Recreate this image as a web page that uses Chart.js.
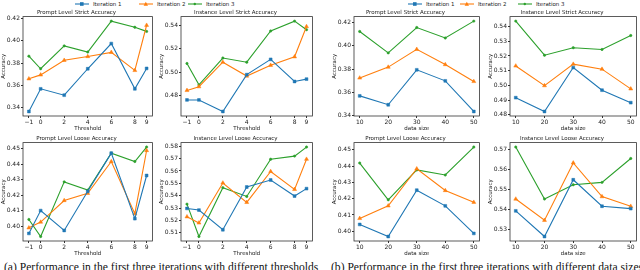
<!DOCTYPE html>
<html>
<head>
<meta charset="utf-8">
<script src="https://cdn.jsdelivr.net/npm/chart.js@4.4.0/dist/chart.umd.min.js"></script>
<style>
  html, body { margin: 0; padding: 0; background: #fff; }
  body { width: 640px; height: 270px; position: relative; overflow: hidden; font-family: 'DejaVu Sans', sans-serif; }
  canvas { position: absolute; }
  .legend { position: absolute; top: 0; height: 9px; font-size: 5.5px; color: #222; }
  .legend span.item { position: absolute; top: 1px; white-space: nowrap; line-height: 7px; }
  .legend svg { vertical-align: middle; margin-right: 4px; }
  .caption { position: absolute; top: 261px; font: 11.6px 'Liberation Serif', serif; line-height: 13px; color: #111; white-space: nowrap; }
</style>
</head>
<body>
<div class="legend" id="legendA"></div>
<div class="legend" id="legendB"></div>
<div class="caption" style="left:4px">(a) Performance in the first three iterations with different thresholds</div>
<div class="caption" style="left:331px">(b) Performance in the first three iterations with different data sizes</div>
<canvas id="c1"></canvas>
<canvas id="c2"></canvas>
<canvas id="c3"></canvas>
<canvas id="c4"></canvas>
<canvas id="c5"></canvas>
<canvas id="c6"></canvas>
<canvas id="c7"></canvas>
<canvas id="c8"></canvas>
<script>
Chart.defaults.font.family = "'DejaVu Sans', sans-serif";
Chart.defaults.color = '#222';
Chart.defaults.devicePixelRatio = 1;

let blue = '#1f77b4';
let orange = '#ff7f0e';
let green = '#2ca02c';

let seriesNames = ['Iteration 1', 'Iteration 2', 'Iteration 3'];

// x values
let thresholds = [-1, 0, 2, 4, 6, 8, 9];
let dataSizes = [10, 20, 30, 40, 50];

// threshold experiments
let promptStrictThr1 = [0.3367, 0.3570, 0.3513, 0.3750, 0.3976, 0.3570, 0.3753];
let promptStrictThr2 = [0.3660, 0.3695, 0.3826, 0.3860, 0.3897, 0.3735, 0.4140];
let promptStrictThr3 = [0.3863, 0.3750, 0.3955, 0.3900, 0.4177, 0.4122, 0.4085];

let instStrictThr1 = [0.4765, 0.4765, 0.4667, 0.4980, 0.5110, 0.4922, 0.4942];
let instStrictThr2 = [0.4846, 0.4878, 0.5086, 0.4968, 0.5060, 0.5132, 0.5389];
let instStrictThr3 = [0.5075, 0.4893, 0.5121, 0.5086, 0.5351, 0.5435, 0.5362];

let promptLooseThr1 = [0.3955, 0.4102, 0.3974, 0.4226, 0.4472, 0.4050, 0.4328];
let promptLooseThr2 = [0.3991, 0.4028, 0.4167, 0.4213, 0.4418, 0.4082, 0.4489];
let promptLooseThr3 = [0.4045, 0.3935, 0.4287, 0.4234, 0.4472, 0.4418, 0.4511];

let instLooseThr1 = [0.5297, 0.5284, 0.5125, 0.5470, 0.5527, 0.5397, 0.5457];
let instLooseThr2 = [0.5230, 0.5180, 0.5503, 0.5346, 0.5596, 0.5451, 0.5695];
let instLooseThr3 = [0.5332, 0.5070, 0.5465, 0.5394, 0.5695, 0.5720, 0.5793];

// data size experiments
let promptStrictSize1 = [0.3571, 0.3495, 0.3795, 0.3700, 0.3437];
let promptStrictSize2 = [0.3725, 0.3818, 0.3971, 0.3840, 0.3695];
let promptStrictSize3 = [0.4124, 0.3940, 0.4158, 0.4068, 0.4213];

let instStrictSize1 = [0.4916, 0.4822, 0.5121, 0.4967, 0.4882];
let instStrictSize2 = [0.5132, 0.4998, 0.5144, 0.5110, 0.4976];
let instStrictSize3 = [0.5437, 0.5205, 0.5256, 0.5244, 0.5339];

let promptLooseSize1 = [0.4042, 0.3968, 0.4252, 0.4156, 0.3987];
let promptLooseSize2 = [0.4079, 0.4156, 0.4383, 0.4250, 0.4178];
let promptLooseSize3 = [0.4418, 0.4193, 0.4376, 0.4345, 0.4516];

let instLooseSize1 = [0.5395, 0.5267, 0.5550, 0.5418, 0.5406];
let instLooseSize2 = [0.5454, 0.5348, 0.5634, 0.5466, 0.5418];
let instLooseSize3 = [0.5713, 0.5454, 0.5525, 0.5537, 0.5656];

// frame boxes of the eight panels
let cols = [[23, 153], [181, 313], [354, 480], [510, 637]];
let rows = [[17, 116], [143, 241]];

let markerStyles = [
  {color: blue, pointStyle: 'rect', radius: 2},
  {color: orange, pointStyle: 'triangle', radius: 2.3},
  {color: green, pointStyle: 'circle', radius: 1.2}
];

let frameBox = {
  id: 'frameBox',
  afterDraw(chart) {
    let a = chart.chartArea;
    let ctx = chart.ctx;
    ctx.save();
    ctx.strokeStyle = '#333';
    ctx.lineWidth = 0.8;
    ctx.strokeRect(a.left, a.top, a.right - a.left, a.bottom - a.top);
    ctx.restore();
  }
};

function drawPanel(id, col, row, title, xLabel, xValues, series, yStep) {
  let yAxisW = 23, xAxisH = 16, titleH = 10.6, padRight = 4;
  let [fl, fr] = cols[col];
  let [ft, fb] = rows[row];
  let canvas = document.getElementById(id);
  canvas.width = fr - fl + yAxisW + padRight;
  canvas.height = Math.round(fb - ft + titleH + xAxisH);
  canvas.style.left = (fl - yAxisW) + 'px';
  canvas.style.top = Math.round(ft - titleH) + 'px';

  let all = series.flat();
  let ymin = Math.min(...all), ymax = Math.max(...all);
  let ypad = (ymax - ymin) * 0.05;
  let xpad = (xValues[xValues.length - 1] - xValues[0]) * 0.05;

  new Chart(canvas, {
    type: 'line',
    data: {
      datasets: series.map((vals, i) => ({
        label: seriesNames[i],
        data: vals.map((v, j) => ({x: xValues[j], y: v})),
        borderColor: markerStyles[i].color,
        backgroundColor: markerStyles[i].color,
        pointStyle: markerStyles[i].pointStyle,
        pointRadius: markerStyles[i].radius,
        pointBorderWidth: 0.5,
        borderWidth: 1.1,
        tension: 0
      }))
    },
    options: {
      responsive: false,
      animation: false,
      layout: {padding: {top: 3, right: padRight, left: 0, bottom: 0}},
      scales: {
        x: {
          type: 'linear',
          min: xValues[0] - xpad,
          max: xValues[xValues.length - 1] + xpad,
          afterBuildTicks: axis => { axis.ticks = xValues.map(v => ({value: v})); },
          afterFit: axis => { axis.height = xAxisH; },
          ticks: {
            font: {size: 6},
            padding: 1,
            maxRotation: 0,
            autoSkip: false,
            callback: v => v < 0 ? '\u2212' + Math.abs(v) : String(v)
          },
          grid: {drawOnChartArea: false, tickLength: 2, color: '#333'},
          border: {display: false},
          title: {display: true, text: xLabel, font: {size: 5.5}, padding: 0}
        },
        y: {
          min: ymin - ypad,
          max: ymax + ypad,
          afterFit: axis => { axis.width = yAxisW; },
          ticks: {
            stepSize: yStep,
            includeBounds: false,
            font: {size: 6},
            padding: 1,
            callback: v => v.toFixed(2)
          },
          grid: {drawOnChartArea: false, tickLength: 2, color: '#333'},
          border: {display: false},
          title: {display: true, text: 'Accuracy', font: {size: 5.5}, padding: 0}
        }
      },
      plugins: {
        legend: {display: false},
        tooltip: {enabled: false},
        title: {
          display: true,
          text: title,
          font: {size: 5.5, weight: 'normal'},
          padding: {top: 0, bottom: 1}
        }
      }
    },
    plugins: [frameBox]
  });
}

function drawLegend(id, positions) {
  let el = document.getElementById(id);
  seriesNames.forEach((name, i) => {
    let m = markerStyles[i];
    let shape;
    if (m.pointStyle === 'rect') shape = '<rect x="5" y="1.2" width="3.6" height="3.6" fill="' + m.color + '"/>';
    else if (m.pointStyle === 'triangle') shape = '<polygon points="6.8,0.8 9,4.8 4.6,4.8" fill="' + m.color + '"/>';
    else shape = '<circle cx="6.8" cy="3" r="1.2" fill="' + m.color + '"/>';
    let item = document.createElement('span');
    item.className = 'item';
    item.style.left = positions[i] + 'px';
    item.innerHTML = '<svg width="14" height="6"><line x1="0" y1="3" x2="14" y2="3" stroke="' + m.color + '" stroke-width="1.1"/>' + shape + '</svg>' + name;
    el.appendChild(item);
  });
}

drawLegend('legendA', [75, 139, 188]);
drawLegend('legendB', [408, 460, 518]);

drawPanel('c1', 0, 0, 'Prompt Level Strict Accuracy', 'Threshold', thresholds,
  [promptStrictThr1, promptStrictThr2, promptStrictThr3], 0.02);
drawPanel('c2', 1, 0, 'Instance Level Strict Accuracy', 'Threshold', thresholds,
  [instStrictThr1, instStrictThr2, instStrictThr3], 0.02);
drawPanel('c3', 2, 0, 'Prompt Level Strict Accuracy', 'data size', dataSizes,
  [promptStrictSize1, promptStrictSize2, promptStrictSize3], 0.02);
drawPanel('c4', 3, 0, 'Instance Level Strict Accuracy', 'data size', dataSizes,
  [instStrictSize1, instStrictSize2, instStrictSize3], 0.01);
drawPanel('c5', 0, 1, 'Prompt Level Loose Accuracy', 'Threshold', thresholds,
  [promptLooseThr1, promptLooseThr2, promptLooseThr3], 0.01);
drawPanel('c6', 1, 1, 'Instance Level Loose Accuracy', 'Threshold', thresholds,
  [instLooseThr1, instLooseThr2, instLooseThr3], 0.01);
drawPanel('c7', 2, 1, 'Prompt Level Loose Accuracy', 'data size', dataSizes,
  [promptLooseSize1, promptLooseSize2, promptLooseSize3], 0.01);
drawPanel('c8', 3, 1, 'Instance Level Loose Accuracy', 'data size', dataSizes,
  [instLooseSize1, instLooseSize2, instLooseSize3], 0.01);
</script>
</body>
</html>
